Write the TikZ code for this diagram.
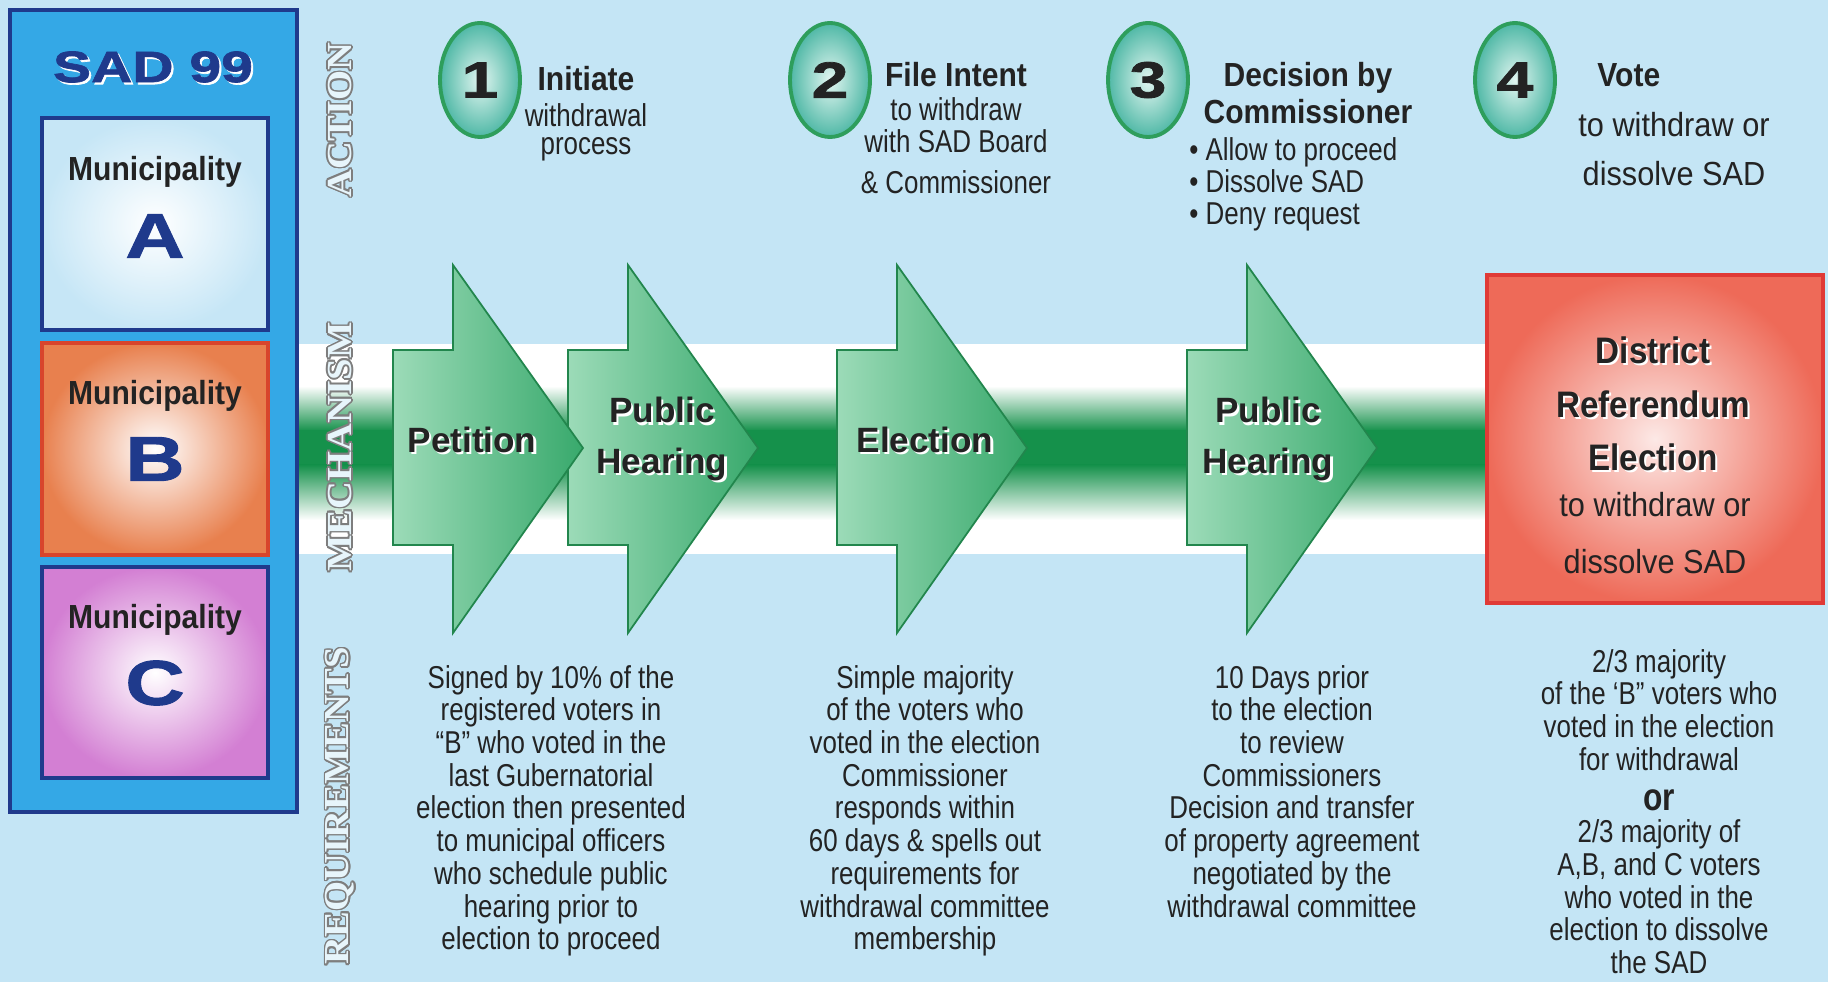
\documentclass[tikz,border=0pt]{standalone}
\usepackage{fontspec}
\setmainfont{Liberation Sans}
\newfontfamily\narrowfont[FakeStretch=0.82]{Liberation Sans}
\newfontfamily\widefont[FakeStretch=0.92]{Liberation Sans}
\newfontfamily\headfont[FakeStretch=0.9]{Liberation Sans Bold}
\newfontfamily\heavyfont[FakeStretch=1.3,FakeBold=1.5]{Liberation Sans Bold}
\newfontfamily\sidefont[FakeStretch=1.1]{Liberation Serif Bold}
\usetikzlibrary{shapes.geometric}
\definecolor{paper}{HTML}{C4E5F5}
\definecolor{navy}{HTML}{1F3A8C}
\definecolor{sky}{HTML}{34A8E6}
\definecolor{ink}{HTML}{232323}
\definecolor{bandgreen}{HTML}{15914B}
\definecolor{leafhi}{HTML}{9CDBB8}
\definecolor{leaflo}{HTML}{38A96C}
\definecolor{leafline}{HTML}{22864D}
\definecolor{ring}{HTML}{2E9E5C}
\definecolor{ringin}{HTML}{E2F6F1}
\definecolor{ringout}{HTML}{4FB8A6}
\definecolor{iceblue}{HTML}{C6E6F6}
\definecolor{peach}{HTML}{E8804E}
\definecolor{rust}{HTML}{D8452C}
\definecolor{orchid}{HTML}{D37FD3}
\definecolor{salmon}{HTML}{EE6A58}
\definecolor{brick}{HTML}{E03A36}
\definecolor{outline}{HTML}{7E7E7E}
% one green stage arrow, #1 = left edge of the shaft
\newcommand{\stagearrow}[1]{\draw[stagebody] (#1,350) -- (#1+60,350) -- (#1+60,265) -- (#1+190,448) -- (#1+60,633) -- (#1+60,545) -- (#1,545) -- cycle;}
% hollow serif caps: grey copies round a light copy
\newcommand{\hollow}[3]{\foreach \ang in {0,22.5,...,337.5}
  \node[sidelabel,text=outline,shift={(\ang:0.9pt)}] (#1-\ang) at (#2) {#3};
  \node[sidelabel,text=white!60!paper] (#1) at (#2) {#3};}
% bold text with a white drop shadow
\newcommand{\shadowed}[4]{\node[#3,text=white,xshift=1.2pt,yshift=-1.2pt] (#1-sh) at (#2) {#4};\node[#3] (#1) at (#2) {#4};}

\begin{document}
\begin{tikzpicture}[x=0.02cm,y=-0.02cm,
  stagebody/.style={left color=leafhi,right color=leaflo,draw=leafline,line width=1pt},
  sidelabel/.style={rotate=90,font=\sidefont\fontsize{20}{20}\selectfont,inner sep=0},
  muni/.style={font=\headfont\fontsize{19}{19}\selectfont,text=ink,inner sep=0},
  bigletter/.style={font=\heavyfont\fontsize{36}{36}\selectfont,text=navy,inner sep=0},
  heavytitle/.style={font=\heavyfont\fontsize{25}{25}\selectfont,text=navy,inner sep=0},
  stepring/.style={ellipse,draw=ring,line width=2.2pt,inner color=ringin,outer color=ringout,minimum width=1.6cm,minimum height=2.28cm,inner sep=0,font=\heavyfont\fontsize{29}{29}\selectfont,text=ink},
  steptitle/.style={font=\headfont\fontsize{19}{21}\selectfont,text=ink,inner sep=0,align=center},
  stepnote/.style={font=\narrowfont\fontsize{18}{18.3}\selectfont,text=ink,inner sep=0,align=center,anchor=north},
  votenote/.style={font=\widefont\fontsize{19}{28}\selectfont,text=ink,inner sep=0,align=center},
  boxtitle/.style={font=\headfont\fontsize{21}{30.5}\selectfont,text=ink,inner sep=0,align=center},
  stagetext/.style={font=\bfseries\fontsize{20}{28.5}\selectfont,text=ink,inner sep=0,align=center},
  needs/.style={font=\narrowfont\fontsize{18}{18.6}\selectfont,text=ink,inner sep=0,align=center,anchor=north}]
\useasboundingbox (0,0) rectangle (1828,982);
\fill[paper] (0,0) rectangle (1828,982);

% band behind the stages
\fill[white] (297,344) rectangle (1490,554);
\shade[top color=white,bottom color=bandgreen] (297,386) rectangle (1490,431);
\fill[bandgreen] (297,430) rectangle (1490,466);
\shade[top color=bandgreen,bottom color=white] (297,465) rectangle (1490,520);

% the district and its towns
\draw[navy,fill=sky,line width=2.8pt] (10,10) rectangle (297,812);
\shadowed{sad}{153,67}{heavytitle}{SAD 99}
\draw[navy,line width=2.3pt,inner color=white,outer color=iceblue] (42,118) rectangle (268,330);
\draw[rust,line width=2.3pt,inner color=white,outer color=peach] (42,343) rectangle (268,555);
\draw[navy,line width=2.3pt,inner color=white,outer color=orchid] (42,567) rectangle (268,778);
\node[muni] (muniA) at (155,172) {Municipality};
\node[bigletter] (letA) at (155,236) {A};
\node[muni] (muniB) at (155,396) {Municipality};
\node[bigletter] (letB) at (155,459) {B};
\node[muni] (muniC) at (155,620) {Municipality};
\node[bigletter] (letC) at (155,683) {C};

\hollow{action}{340,120}{ACTION}
\hollow{mechanism}{340,447}{MECHANISM}
\hollow{requirements}{340,806}{REQUIREMENTS}

% steps
\node[stepring] (one) at (480,80) {1};
\node[stepring] (two) at (830,80) {2};
\node[stepring] (three) at (1148,80) {3};
\node[stepring] (four) at (1515,80) {4};
\node[steptitle] (initiate) at (586,79) {Initiate};
\node[stepnote] (initiatenote) at (586,103) {withdrawal\\[-2.5pt]process};
\node[steptitle] (fileintent) at (956,75) {File Intent};
\node[stepnote] (fileintentnote) at (956,97) {to withdraw\\with SAD Board\\[5pt]\& Commissioner};
\node[steptitle] (decision) at (1308,93) {Decision by\\Commissioner};
\node[stepnote,anchor=north west,align=left] (decisionnote) at (1189,137) {\textbullet\ Allow to proceed\\\textbullet\ Dissolve SAD\\\textbullet\ Deny request};
\node[steptitle,anchor=west] (vote) at (1597,75) {Vote};
\node[votenote] (votenote) at (1674,149) {to withdraw or\\dissolve SAD};

% mechanism
\foreach \L in {1187,837,568,393}{\stagearrow{\L}}
\shadowed{petition}{472,440}{stagetext}{Petition}
\shadowed{hearingA}{662,439}{stagetext}{Public\\Hearing}
\shadowed{election}{925,440}{stagetext}{Election}
\shadowed{hearingB}{1268,439}{stagetext}{Public\\Hearing}
\draw[brick,line width=2.8pt,inner color=white!85!salmon,outer color=salmon] (1487,275) rectangle (1823,603);
\shadowed{referendum}{1653,404}{boxtitle}{District\\Referendum\\Election}
\node[votenote] (referendumnote) at (1655,533) {to withdraw or\\[4pt]dissolve SAD};

% requirements
\node[needs] (petitionneeds) at (551,665) {Signed by 10\% of the\\registered voters in\\“B” who voted in the\\last Gubernatorial\\election then presented\\to municipal officers\\who schedule public\\hearing prior to\\election to proceed};
\node[needs] (electionneeds) at (925,665) {Simple majority\\of the voters who\\voted in the election\\Commissioner\\responds within\\60 days \& spells out\\requirements for\\withdrawal committee\\membership};
\node[needs] (hearingneeds) at (1292,665) {10 Days prior\\to the election\\to review\\Commissioners\\Decision and transfer\\of property agreement\\negotiated by the\\withdrawal committee};
\node[needs] (voteneeds) at (1659,649) {2/3 majority\\of the ‘B” voters who\\voted in the election\\for withdrawal\\[4pt]{\bfseries\fontsize{22}{22}\selectfont or}\\2/3 majority of\\A,B, and C voters\\who voted in the\\election to dissolve\\the SAD};
\end{tikzpicture}
\end{document}
